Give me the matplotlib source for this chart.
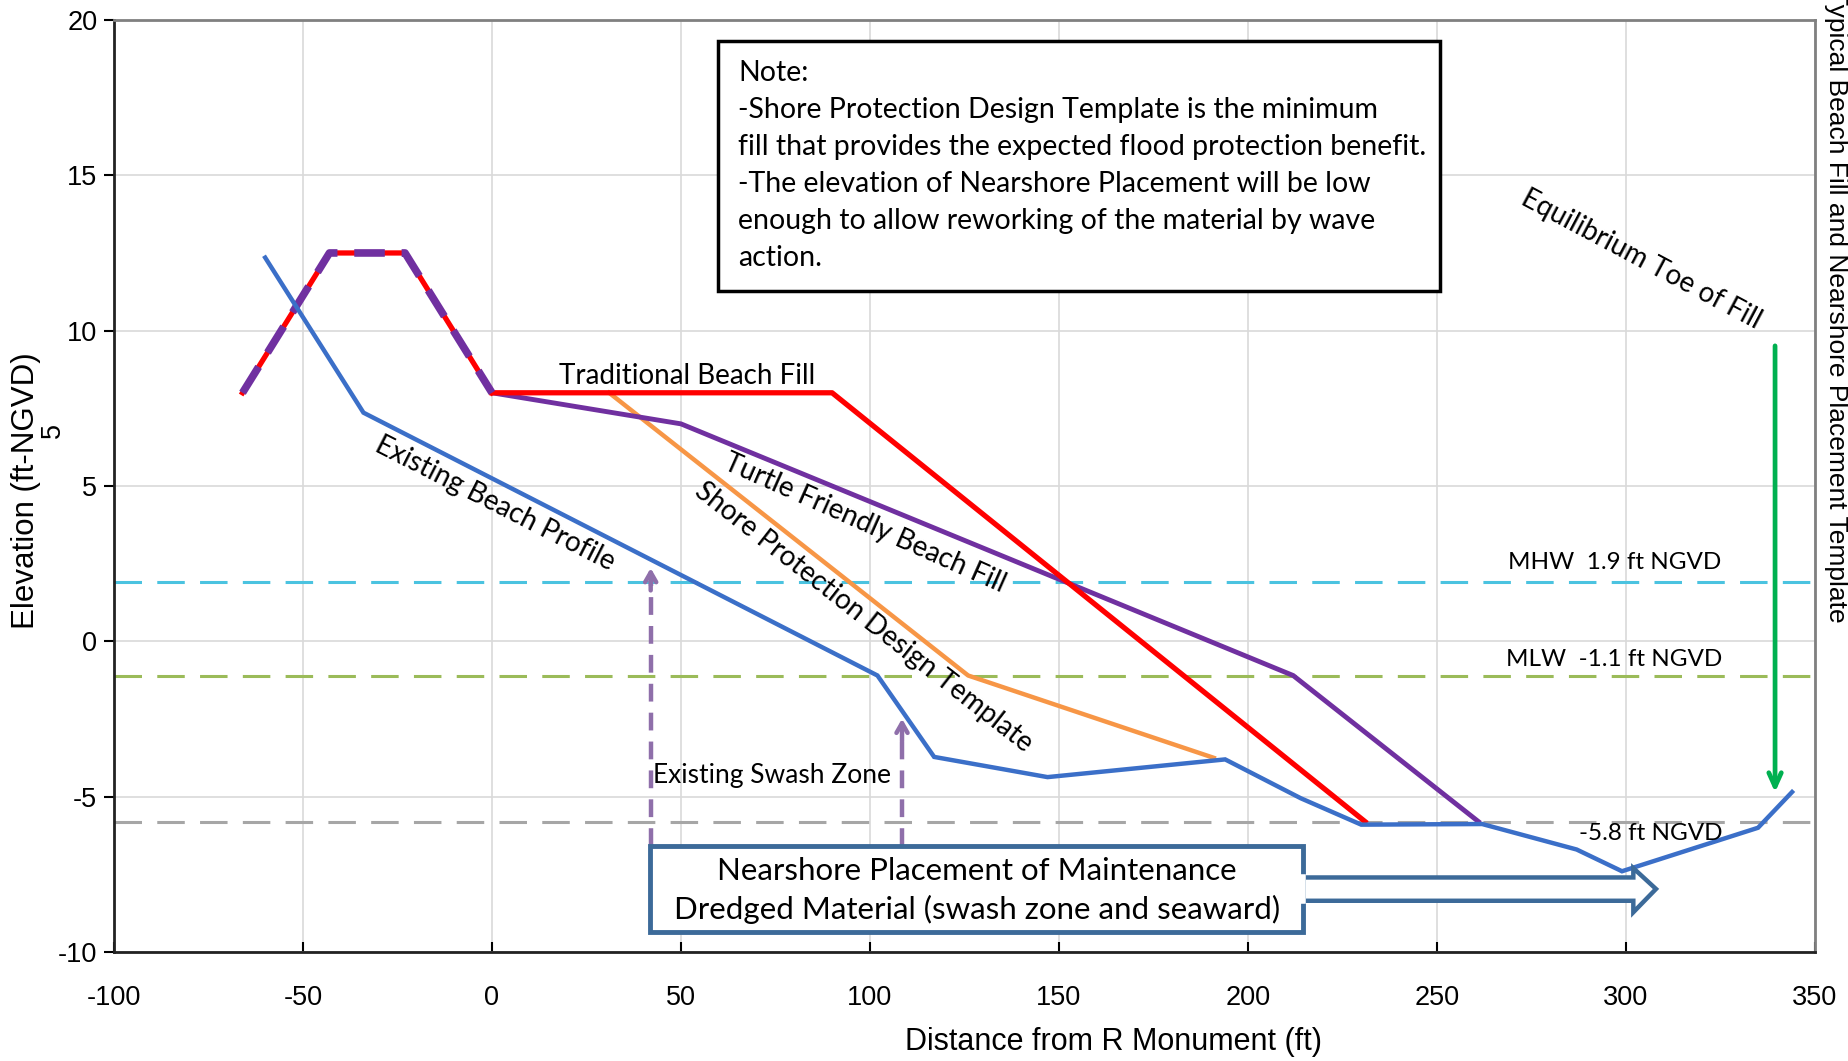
import matplotlib
matplotlib.use("Agg")
import matplotlib.pyplot as plt
from matplotlib.patches import Rectangle, Polygon

# profiles (distance ft, elevation ft-NGVD)
dune_x = [-66, -43, -23, 0]
dune_y = [8.0, 12.5, 12.5, 8.0]

trad_x = [0, 90, 231]
trad_y = [8.0, 8.0, -5.8]

turtle_x = [0, 50, 212, 261]
turtle_y = [8.0, 7.0, -1.1, -5.8]

shore_x = [31, 126, 191]
shore_y = [8.0, -1.1, -3.75]

exist_x = [-60, -34, 102, 117, 147, 194, 214, 230, 262, 287, 299, 335, 344]
exist_y = [12.35, 7.36, -1.1, -3.72, -4.37, -3.8, -5.05, -5.9, -5.88, -6.7, -7.4, -6.0, -4.85]

levels = [1.9, -1.1, -5.8]
level_colors = ["#4BC3E0", "#9BBB59", "#A6A6A6"]
level_labels = ["MHW  1.9 ft NGVD", "MLW  -1.1 ft NGVD", "-5.8 ft NGVD"]

swash_x = [42, 108.5]
swash_top = [2.45, -2.4]
toe_x = 339.5

xticks = list(range(-100, 351, 50))
yticks = list(range(-10, 21, 5))

ann = ["Lato", "DejaVu Sans"]
plt.rcParams["font.family"] = ["Liberation Sans", "DejaVu Sans"]
plt.rcParams["axes.unicode_minus"] = False

fig = plt.figure(figsize=(18.48, 10.61), dpi=100)
ax = fig.add_axes([0.0617, 0.1027, 0.9203, 0.8785])

ax.set_xlim(-100, 350)
ax.set_ylim(-10, 20)
ax.set_xticks(xticks)
ax.set_yticks(yticks)
ax.grid(True, color="#D9D9D9", lw=1.2)
ax.set_axisbelow(True)

for y, c in zip(levels, level_colors):
    ax.axhline(y, color=c, lw=2.2, dashes=(9, 5), zorder=2)

ax.plot(exist_x, exist_y, color="#3B6FC8", lw=3.2, zorder=4, solid_joinstyle="miter")
ax.plot(shore_x, shore_y, color="#F79646", lw=3.2, zorder=3)
ax.plot(turtle_x, turtle_y, color="#7030A0", lw=3.5, zorder=3)
ax.plot(trad_x, trad_y, color="#FF0000", lw=3.8, zorder=3)
ax.plot(dune_x, dune_y, color="#FF0000", lw=3.8, zorder=3)
ax.plot(dune_x, dune_y, color="#7030A0", lw=5.5, dashes=(4, 2.2), zorder=3.5)

# swash zone arrows
for sx, st in zip(swash_x, swash_top):
    ax.plot([sx, sx], [-6.6, st - 0.3], color="#8F6FAA", lw=3.2, dashes=(4, 2.5), zorder=3)
    ax.annotate("", xy=(sx, st), xytext=(sx, st - 0.9),
                arrowprops=dict(arrowstyle="->,head_length=0.7,head_width=0.4",
                                color="#8F6FAA", lw=3.2), zorder=3)

# equilibrium toe arrow
ax.annotate("", xy=(toe_x, -4.95), xytext=(toe_x, 9.6),
            arrowprops=dict(arrowstyle="->,head_length=1.0,head_width=0.45",
                            color="#00B050", lw=3.4), zorder=4)

# nearshore placement box + arrow
box_c = "#3C6A99"
arrow = Polygon([(214.5, -7.6), (302, -7.6), (302, -7.3), (308, -7.97),
                 (302, -8.72), (302, -8.35), (214.5, -8.35)],
                closed=True, facecolor="white", edgecolor=box_c, lw=3.2, zorder=5)
ax.add_patch(arrow)
ax.add_patch(Rectangle((41.7, -9.35), 172.8, 2.75, facecolor="white",
                       edgecolor=box_c, lw=3.5, zorder=6))
ax.plot([214.5, 214.5], [-7.6, -8.35], color="white", lw=4, zorder=7)
ax.text(128.3, -7.38, "Nearshore Placement of Maintenance", ha="center", va="center",
        fontsize=22.5, family=ann, zorder=8)
ax.text(128.3, -8.63, "Dredged Material (swash zone and seaward)", ha="center", va="center",
        fontsize=22.5, family=ann, zorder=8)

# note box
ax.add_patch(Rectangle((59.7, 11.29), 191.2, 8.03, facecolor="white",
                       edgecolor="black", lw=2.5, zorder=6))
note = ("Note:\n"
        "-Shore Protection Design Template is the minimum\n"
        "fill that provides the expected flood protection benefit.\n"
        "-The elevation of Nearshore Placement will be low\n"
        "enough to allow reworking of the material by wave\n"
        "action.")
ax.text(65.1, 18.72, note, ha="left", va="top", fontsize=20.5, family=ann,
        linespacing=1.53, zorder=7)

# curve labels
ax.text(51.6, 8.53, "Traditional Beach Fill", ha="center", va="center",
        fontsize=20, family=ann, zorder=7)
ax.text(0.8, 4.43, "Existing Beach Profile", ha="center", va="center",
        fontsize=20, family=ann, rotation=-27, rotation_mode="anchor", zorder=7)
ax.text(98.7, 3.79, "Turtle Friendly Beach Fill", ha="center", va="center",
        fontsize=20, family=ann, rotation=-24, rotation_mode="anchor", zorder=7)
ax.text(98.4, 0.77, "Shore Protection Design Template", ha="center", va="center",
        fontsize=20, family=ann, rotation=-38, rotation_mode="anchor", zorder=7)
ax.text(304, 12.31, "Equilibrium Toe of Fill", ha="center", va="center",
        fontsize=20, family=ann, rotation=-28, rotation_mode="anchor", zorder=7)
ax.text(74.1, -4.32, "Existing Swash Zone", ha="center", va="center",
        fontsize=19, family=ann, zorder=7)
for y, lab in zip([2.54, -0.6], level_labels[:2]):
    ax.text(297, y, lab, ha="center", va="center", fontsize=17.5, family=ann, zorder=7)
ax.text(306.5, -6.17, level_labels[2], ha="center", va="center", fontsize=17.5,
        family=ann, zorder=7)

# axes styling
for s in ["left", "bottom"]:
    ax.spines[s].set_color("#222222")
    ax.spines[s].set_linewidth(2)
for s in ["top", "right"]:
    ax.spines[s].set_color("#808080")
    ax.spines[s].set_linewidth(2)
ax.tick_params(axis="x", direction="in", length=7, width=1.5, pad=24, labelsize=19.5)
ax.tick_params(axis="y", direction="out", length=7, width=1.5, pad=5, labelsize=19.5)
ax.set_xlabel("Distance from R Monument (ft)", fontsize=22, va="center")
ax.set_ylabel("Elevation (ft-NGVD)", fontsize=22.5, va="center")
ax.xaxis.set_label_coords(0.5877, -0.097)
ax.yaxis.set_label_coords(-0.0515, 0.4955)

fig.text(0.0287, 0.5946, "5", rotation=90, ha="center", va="center", fontsize=19.5)
fig.text(0.9935, 0.712, "Typical Beach Fill and Nearshore Placement Template",
         rotation=-90, ha="center", va="center", fontsize=19)

fig.savefig("out.png", dpi=100)
